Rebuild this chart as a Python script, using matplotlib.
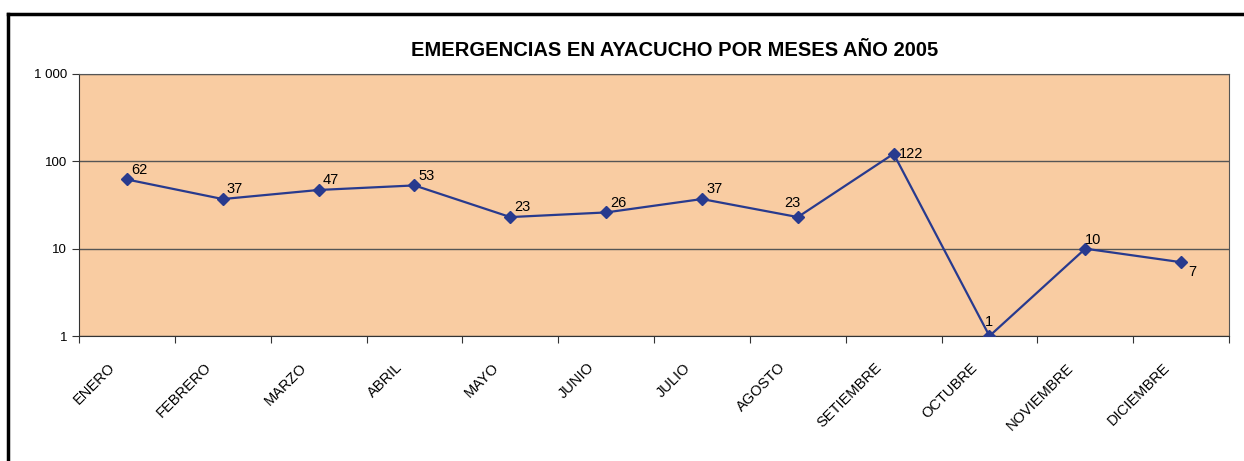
import numpy as np
import matplotlib
matplotlib.use("Agg")
import matplotlib.pyplot as plt
import matplotlib.transforms as mtrans
from matplotlib.ticker import FixedLocator, NullFormatter, FixedFormatter

plt.rcParams['font.family'] = ['Liberation Sans', 'DejaVu Sans']

meses = ["ENERO", "FEBRERO", "MARZO", "ABRIL", "MAYO", "JUNIO", "JULIO",
         "AGOSTO", "SETIEMBRE", "OCTUBRE", "NOVIEMBRE", "DICIEMBRE"]
emergencias = [62, 37, 47, 53, 23, 26, 37, 23, 122, 1, 10, 7]
y_ticks = [1, 10, 100, 1000]
y_labels = ["1", "10", "100", "1 000"]

# label offsets (points) and alignment for each data label
offsets = ([(3, 2, 'left', 'bottom')] * 7
           + [(-4, 5, 'center', 'bottom'),
              (4, 0, 'left', 'center'),
              (-3, 5, 'left', 'bottom'),
              (0, 1, 'left', 'bottom'),
              (5, -2, 'left', 'top')])

fig = plt.figure(figsize=(12.44, 4.61), dpi=100)
ax = fig.add_axes([0.0635, 0.2711, 0.9245, 0.5684])
ax.set_facecolor('#F9CCA2')

x = np.arange(len(meses))
ax.plot(x, emergencias, color='#283A8E', lw=1.6, marker='D', ms=6.5,
        mec='#283A8E', mfc='#283A8E', zorder=3)

for xi, v, (dx, dy, ha, va) in zip(x, emergencias, offsets):
    ax.annotate(str(v), (xi, v), xytext=(dx, dy), textcoords='offset points',
                ha=ha, va=va, fontsize=10.5, zorder=4)

ax.set_yscale('log')
ax.set_ylim(1, 1000)
ax.set_xlim(-0.5, len(meses) - 0.5)
ax.yaxis.set_major_locator(FixedLocator(y_ticks))
ax.yaxis.set_major_formatter(FixedFormatter(y_labels))
ax.yaxis.set_minor_locator(FixedLocator([]))
ax.grid(axis='y', color='#555555', lw=1)

ax.xaxis.set_major_locator(FixedLocator(np.arange(-0.5, len(meses), 1.0)))
ax.xaxis.set_major_formatter(NullFormatter())
ax.xaxis.set_minor_locator(FixedLocator(x))
ax.xaxis.set_minor_formatter(FixedFormatter(meses))
ax.tick_params(axis='x', which='minor', length=0, pad=4)
ax.tick_params(axis='x', which='major', length=5, direction='out', color='#333333')
ax.tick_params(axis='y', length=5, direction='out', color='#333333', labelsize=9.5)
shift = mtrans.ScaledTranslation(-0.19, -0.19, fig.dpi_scale_trans)
for lab in ax.get_xticklabels(minor=True):
    lab.set_rotation(45)
    lab.set_ha('right')
    lab.set_rotation_mode('anchor')
    lab.set_fontsize(10.5)
    lab.set_transform(lab.get_transform() + shift)

for side in ['top', 'right']:
    ax.spines[side].set_color('#555555')
for side in ['left', 'bottom']:
    ax.spines[side].set_color('#333333')

fig.text(0.5426, 0.8915, "EMERGENCIAS EN AYACUCHO POR MESES AÑO 2005",
         ha='center', va='center', fontsize=14.5, fontweight='bold')

# outer frame (left and top only visible)
fig.add_artist(plt.Line2D([0.0065, 0.0065], [0, 0.9696], color='black', lw=2.5))
fig.add_artist(plt.Line2D([0.0065, 1.0], [0.9696, 0.9696], color='black', lw=2.5))

fig.savefig("out.png", dpi=100)
